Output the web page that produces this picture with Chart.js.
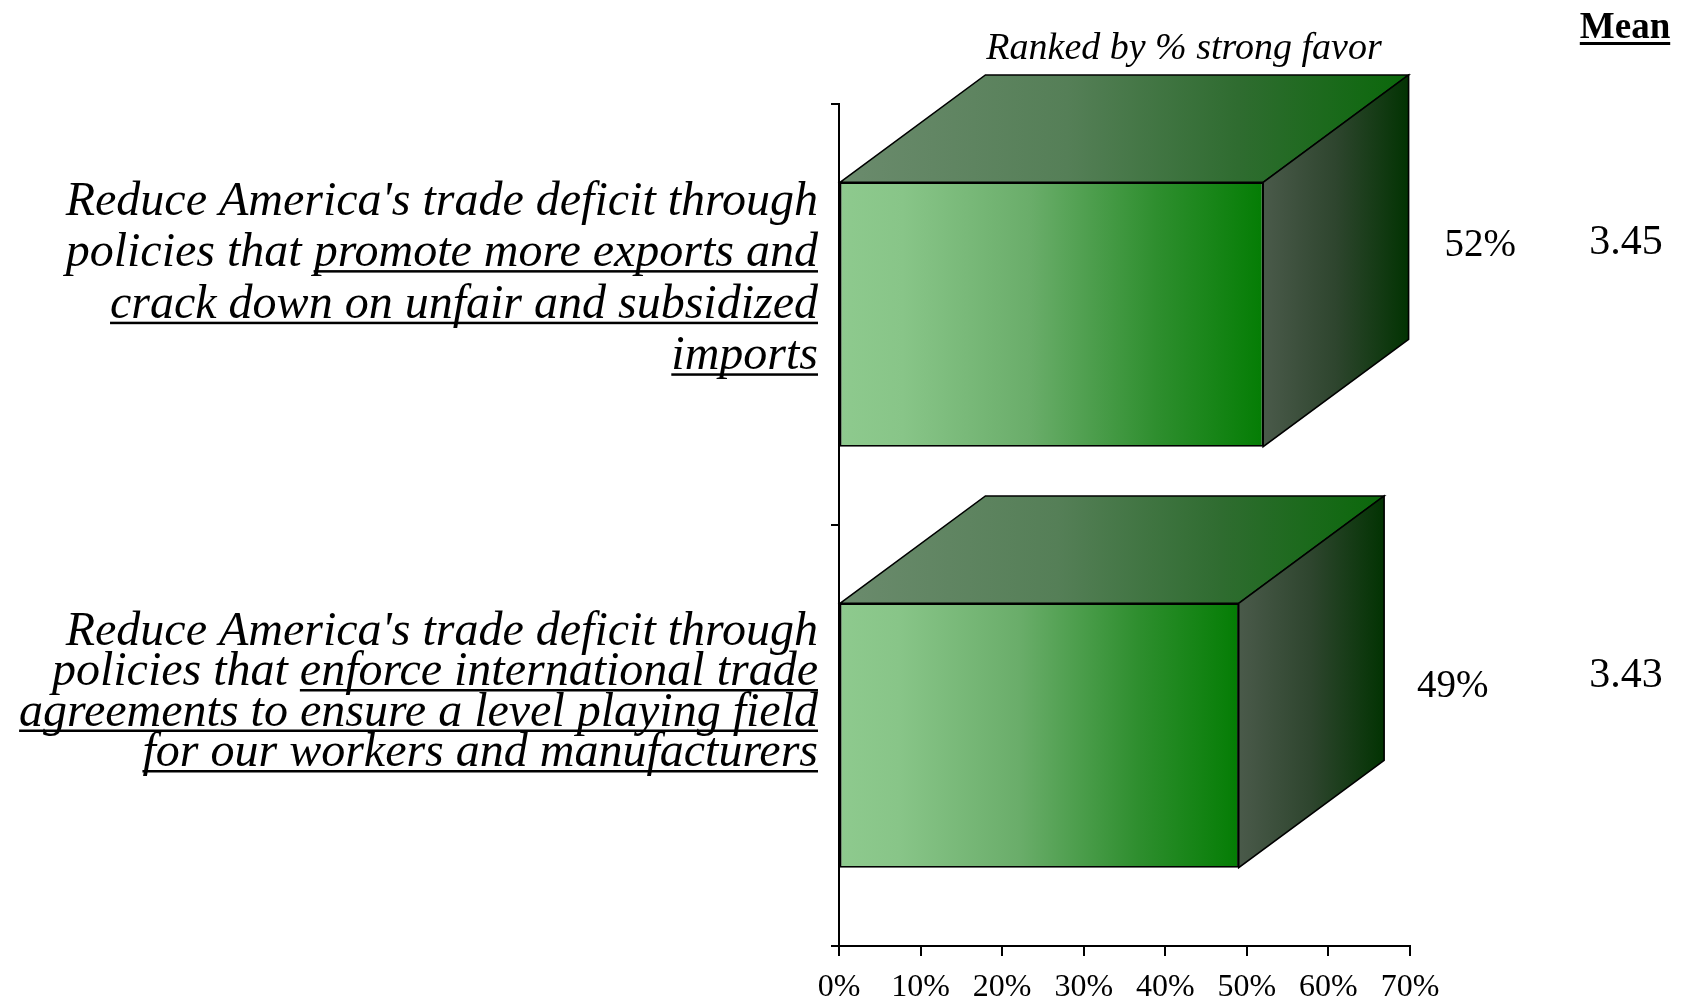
<!DOCTYPE html>
<html>
<head>
<meta charset="utf-8">
<script src="https://cdn.jsdelivr.net/npm/chart.js@4.4.1/dist/chart.umd.min.js"></script>
<style>
  html, body { margin: 0; padding: 0; background: #ffffff; }
  #wrap { width: 1687px; height: 1000px; position: relative; }
</style>
</head>
<body>
<div id="wrap"><canvas id="c" width="1687" height="1000"></canvas></div>
<script>
// ---- data ----
const categories = [
  "Reduce America's trade deficit through policies that promote more exports and crack down on unfair and subsidized imports",
  "Reduce America's trade deficit through policies that enforce international trade agreements to ensure a level playing field for our workers and manufacturers"
];
// label lines: [text, underlined]
const categoryLines = [
  [
    [["Reduce America's trade deficit through", false]],
    [["policies that ", false], ["promote more exports and", true]],
    [["crack down on unfair and subsidized", true]],
    [["imports", true]]
  ],
  [
    [["Reduce America's trade deficit through", false]],
    [["policies that ", false], ["enforce international trade", true]],
    [["agreements to ensure a level playing field", true]],
    [["for our workers and manufacturers", true]]
  ]
];
const strongFavor = [52, 49];
const meanValues = ["3.45", "3.43"];
const xTickValues = [0, 10, 20, 30, 40, 50, 60, 70];
const subtitle = "Ranked by % strong favor";
const meanHeader = "Mean";

// ---- styles ----
const SERIF = "'Liberation Serif', 'Times New Roman', serif";
const labelStyle = { right: 818, lineGaps: [51.6, 40.5], firstBaselineOffset: [-100, -91], size: 48 };
const pctLabelNudge = [-59, -39];
const pctLabelGap = [36, 33];
const meanNudge = [-61, -49];
const depth = { dx: 0.55, dy: 0.406 };

function makeGrad(ctx, x0, x1, stops) {
  const g = ctx.createLinearGradient(x0, 0, x1, 0);
  stops.forEach(s => g.addColorStop(s[0], s[1]));
  return g;
}
const frontStops = [[0, '#8ECA8E'], [0.15, '#88C588'], [0.45, '#6AAD6A'], [0.75, '#2E8E2E'], [1, '#047D04']];
const topStops = [[0, '#6B8B6D'], [0.4, '#557F57'], [0.7, '#2F6C30'], [1, '#0A680A']];
const sideStops = [[0, '#4A5A4A'], [0.5, '#2E452E'], [1, '#023302']];

const box3d = {
  id: 'box3d',
  beforeDatasetsDraw(chart) {
    const ctx = chart.ctx;
    const meta = chart.getDatasetMeta(0);
    meta.data.forEach(el => {
      const p = el.getProps(['x', 'y', 'base', 'height'], true);
      const left = p.base, right = p.x, top = p.y - p.height / 2, bottom = p.y + p.height / 2;
      const dx = p.height * depth.dx, dy = p.height * depth.dy;
      ctx.save();
      ctx.lineWidth = 1.6;
      ctx.strokeStyle = '#000';
      ctx.lineJoin = 'miter';
      // top face
      ctx.beginPath();
      ctx.moveTo(left, top);
      ctx.lineTo(left + dx, top - dy);
      ctx.lineTo(right + dx, top - dy);
      ctx.lineTo(right, top);
      ctx.closePath();
      ctx.fillStyle = makeGrad(ctx, left, right + dx, topStops);
      ctx.fill();
      ctx.stroke();
      // side face
      ctx.beginPath();
      ctx.moveTo(right, top);
      ctx.lineTo(right + dx, top - dy);
      ctx.lineTo(right + dx, bottom - dy);
      ctx.lineTo(right, bottom);
      ctx.closePath();
      ctx.fillStyle = makeGrad(ctx, right, right + dx, sideStops);
      ctx.fill();
      ctx.stroke();
      ctx.restore();
    });
  }
};

const textPlugin = {
  id: 'texts',
  afterDraw(chart) {
    const ctx = chart.ctx;
    const ys = chart.scales.y;
    const meta = chart.getDatasetMeta(0);
    ctx.save();
    ctx.fillStyle = '#000';
    ctx.strokeStyle = '#000';
    ctx.textBaseline = 'alphabetic';

    // subtitle
    ctx.font = `italic 38px ${SERIF}`;
    ctx.textAlign = 'center';
    ctx.fillText(subtitle, 1184, 59);

    // Mean header
    ctx.font = `bold 37px ${SERIF}`;
    const mw = ctx.measureText(meanHeader).width;
    ctx.fillText(meanHeader, 1625, 38);
    ctx.fillRect(1625 - mw / 2, 42, mw, 3);

    // category labels
    ctx.textAlign = 'left';
    ctx.font = `italic ${labelStyle.size}px ${SERIF}`;
    categoryLines.forEach((lines, i) => {
      const cy = ys.getPixelForValue(i);
      let base = cy + labelStyle.firstBaselineOffset[i];
      lines.forEach(segs => {
        const total = segs.reduce((s, sg) => s + ctx.measureText(sg[0]).width, 0);
        let x = labelStyle.right - total;
        segs.forEach(sg => {
          const w = ctx.measureText(sg[0]).width;
          ctx.fillText(sg[0], x, base);
          if (sg[1]) ctx.fillRect(x, base + 4, w, 2.5);
          x += w;
        });
        base += labelStyle.lineGaps[i];
      });
    });

    // percent labels and means
    meta.data.forEach((el, i) => {
      const p = el.getProps(['x', 'y', 'height'], true);
      const dx = p.height * depth.dx;
      ctx.font = `39px ${SERIF}`;
      ctx.textAlign = 'left';
      ctx.fillText(strongFavor[i] + '%', p.x + dx + pctLabelGap[i], p.y + pctLabelNudge[i]);
      ctx.textAlign = 'center';
      ctx.font = `42px ${SERIF}`;
      ctx.fillText(meanValues[i], 1626, p.y + meanNudge[i]);
    });
    ctx.restore();
  }
};

new Chart(document.getElementById('c'), {
  type: 'bar',
  data: {
    labels: categories,
    datasets: [{
      label: '% strong favor',
      data: strongFavor,
      backgroundColor: (c) => {
        const chart = c.chart;
        const xs = chart.scales.x;
        if (!xs || !chart.chartArea || c.raw == null) return '#4a9a4a';
        return makeGrad(chart.ctx, xs.getPixelForValue(0), xs.getPixelForValue(c.raw), frontStops);
      },
      borderColor: '#000',
      borderWidth: 1.6,
      borderSkipped: false,
      categoryPercentage: 1.0,
      barPercentage: 0.628
    }]
  },
  options: {
    indexAxis: 'y',
    responsive: false,
    animation: false,
    devicePixelRatio: 1,
    layout: { padding: { left: 0, right: 277, top: 104, bottom: 0 } },
    plugins: { legend: { display: false }, tooltip: { enabled: false } },
    scales: {
      x: {
        type: 'linear',
        min: 0, max: 70,
        afterBuildTicks: (s) => { s.ticks = xTickValues.map(v => ({ value: v })); },
        ticks: {
          callback: v => v + '%',
          color: '#000',
          font: { family: SERIF, size: 32 },
          padding: 12,
          maxRotation: 0,
          autoSkip: false
        },
        grid: { drawOnChartArea: false, drawTicks: true, tickLength: 10, color: '#000', lineWidth: 2 },
        border: { display: true, color: '#000', width: 2 },
        afterFit: (s) => { s.height = 54; }
      },
      y: {
        type: 'category',
        offset: true,
        ticks: { display: false },
        grid: { drawOnChartArea: false, drawTicks: true, tickLength: 8, color: '#000', lineWidth: 2, offset: true },
        border: { display: true, color: '#000', width: 2 },
        afterFit: (s) => { s.width = 839; }
      }
    }
  },
  plugins: [box3d, textPlugin]
});
</script>
</body>
</html>
